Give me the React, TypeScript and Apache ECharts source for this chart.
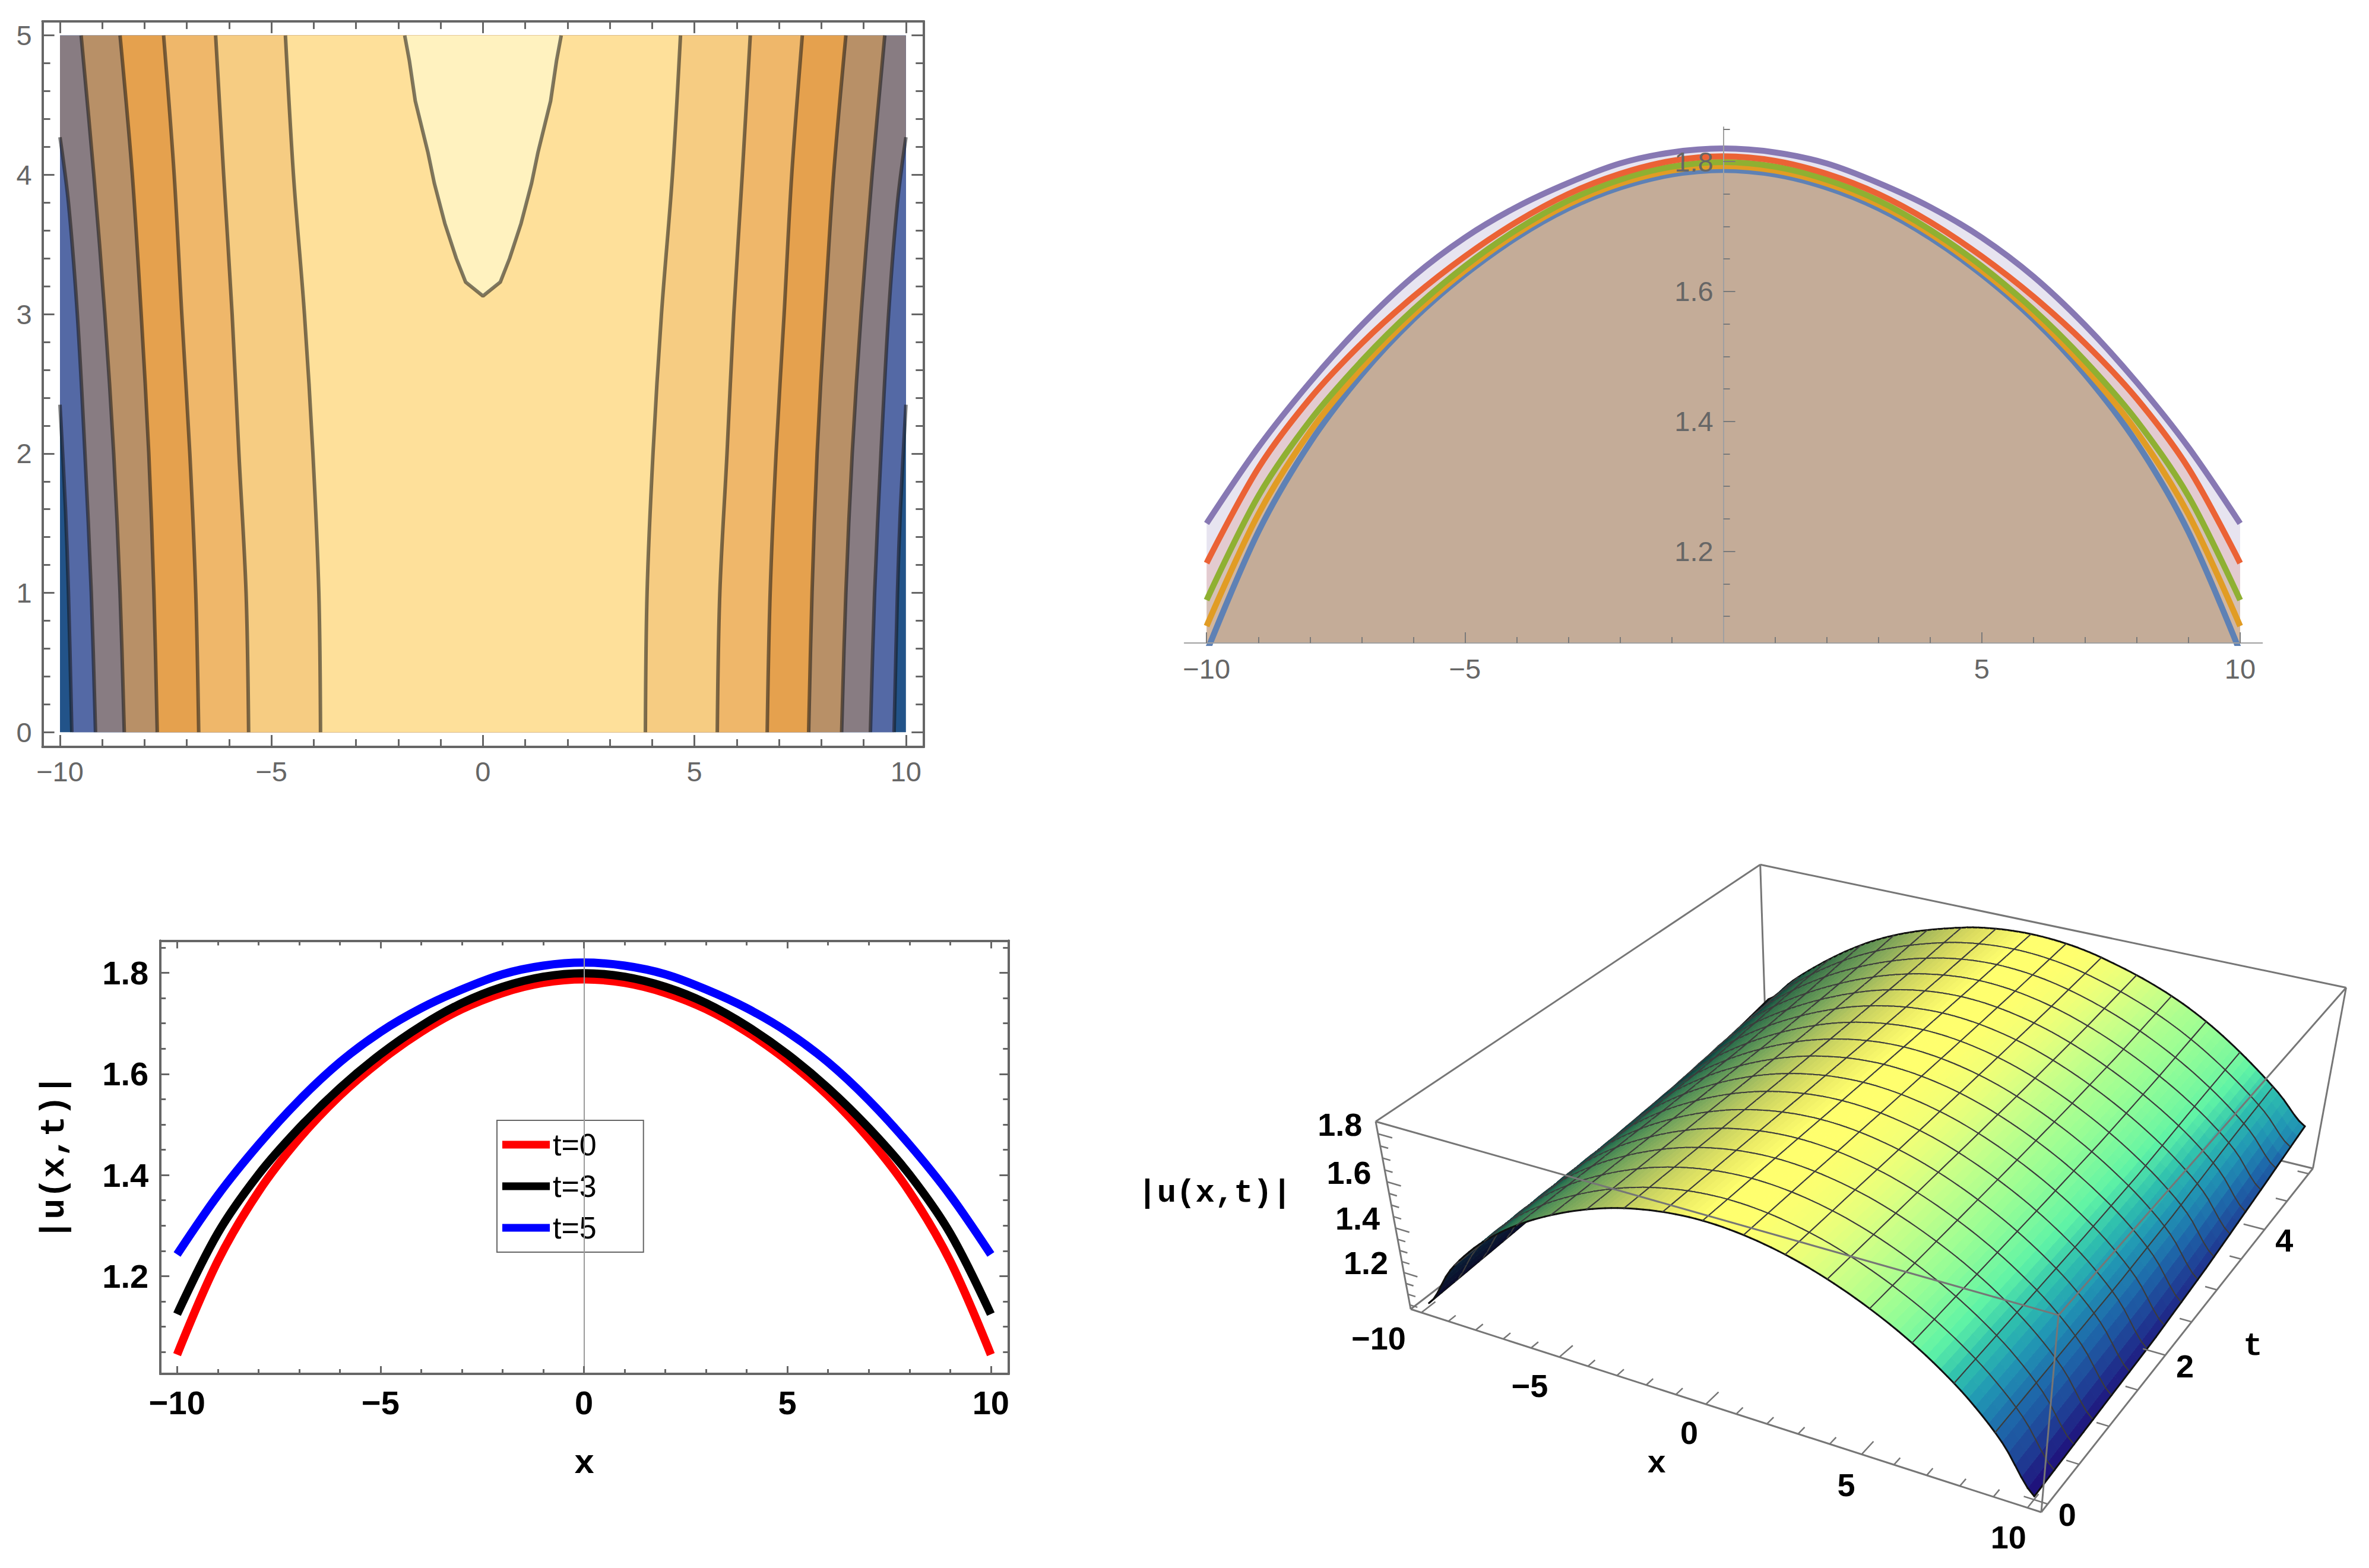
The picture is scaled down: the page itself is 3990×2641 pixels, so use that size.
import { useEffect, useRef } from 'react';
import * as echarts from 'echarts';

// values
const xKnots = [-10, -9, -8, -7, -6, -5, -4, -3, -2, -1, 0, 1, 2, 3, 4, 5, 6, 7, 8, 9, 10];
const curveT0 = [1.045, 1.23, 1.367, 1.472, 1.557, 1.626, 1.683, 1.728, 1.76, 1.78, 1.787, 1.78, 1.76, 1.728, 1.683, 1.626, 1.557, 1.472, 1.367, 1.23, 1.045];
const curveT2 = [1.085, 1.257, 1.384, 1.482, 1.564, 1.632, 1.689, 1.734, 1.766, 1.786, 1.793, 1.786, 1.766, 1.734, 1.689, 1.632, 1.564, 1.482, 1.384, 1.257, 1.085];
const curveT3 = [1.125, 1.285, 1.401, 1.493, 1.572, 1.639, 1.695, 1.74, 1.772, 1.792, 1.799, 1.792, 1.772, 1.74, 1.695, 1.639, 1.572, 1.493, 1.401, 1.285, 1.125];
const curveT4 = [1.182, 1.328, 1.435, 1.52, 1.592, 1.654, 1.707, 1.75, 1.781, 1.801, 1.808, 1.801, 1.781, 1.75, 1.707, 1.654, 1.592, 1.52, 1.435, 1.328, 1.182];
const curveT5 = [1.243, 1.36, 1.46, 1.548, 1.623, 1.683, 1.73, 1.767, 1.797, 1.814, 1.82, 1.814, 1.797, 1.767, 1.73, 1.683, 1.623, 1.548, 1.46, 1.36, 1.243];
const surfaceTimes = [0, 2, 3, 4, 5];
const surfaceRows = [curveT0, curveT2, curveT3, curveT4, curveT5];

// contour lines of the left half as [x, t], the right half mirrors them
const contour1 = [[0, 3.13], [-0.41, 3.23], [-0.63, 3.4], [-0.9, 3.65], [-1.15, 3.94], [-1.3, 4.16], [-1.6, 4.53], [-1.74, 4.82], [-1.85, 5]];
const contour2 = [[-3.84, 0], [-3.88, 1], [-4.02, 2], [-4.22, 3], [-4.48, 4], [-4.67, 5]];
const contour3 = [[-5.54, 0], [-5.6, 1], [-5.77, 2], [-5.93, 3], [-6.13, 4], [-6.32, 5]];
const contour4 = [[-6.72, 0], [-6.79, 1], [-6.93, 2], [-7.12, 3], [-7.3, 4], [-7.55, 5]];
const contour5 = [[-7.7, 0], [-7.78, 1], [-7.9, 2], [-8.08, 3], [-8.29, 4], [-8.58, 5]];
const contour6 = [[-8.48, 0], [-8.58, 1], [-8.73, 2], [-8.94, 3], [-9.2, 4], [-9.5, 5]];
const contour7 = [[-9.16, 0], [-9.26, 1], [-9.41, 2], [-9.59, 3], [-9.8, 3.8], [-10, 4.27]];
const contour8 = [[-9.72, 0], [-9.8, 1], [-9.87, 1.6], [-10, 2.35]];
const contourLines = [contour8, contour7, contour6, contour5, contour4, contour3, contour2, contour1];
const contourColors = ['#5469a5', '#887c82', '#b89067', '#e5a14e', '#efb76a', '#f6cc82', '#fee09a', '#fff2bf'];

const xMajor = [-10, -5, 0, 5, 10];
const xMajorNoZero = [-10, -5, 5, 10];
const xMinor = [-9, -8, -7, -6, -4, -3, -2, -1, 1, 2, 3, 4, 6, 7, 8, 9];
const tMajor = [0, 1, 2, 3, 4, 5];
const tMinor = [0.2, 0.4, 0.6, 0.8, 1.2, 1.4, 1.6, 1.8, 2.2, 2.4, 2.6, 2.8, 3.2, 3.4, 3.6, 3.8, 4.2, 4.4, 4.6, 4.8];
const uMajor = [1.2, 1.4, 1.6, 1.8];
const uMinor = [1.05, 1.1, 1.15, 1.25, 1.3, 1.35, 1.45, 1.5, 1.55, 1.65, 1.7, 1.75, 1.85];
const surfaceTMajor = [0, 2, 4];
const surfaceTMinor = [0.5, 1, 1.5, 2.5, 3, 3.5, 4.5, 5];

const bandColors = ['#5e81b5', '#e19c24', '#8fb032', '#eb6235', '#8778b3'];
const legendNames = ['t=0', 't=3', 't=5'];
const legendColors = ['#ff0000', '#000000', '#0000ff'];

const zPalette: [number, number[]][] = [
  [1.05, [31, 15, 122]],
  [1.15, [31, 63, 149]],
  [1.27, [30, 106, 171]],
  [1.36, [33, 152, 180]],
  [1.43, [47, 192, 174]],
  [1.5, [95, 243, 166]],
  [1.6, [156, 254, 148]],
  [1.69, [207, 255, 134]],
  [1.74, [238, 255, 120]],
  [1.78, [255, 255, 110]],
];
// how far the colour runs ahead of the height at the far end (t=5), by height
const farColorShift = [[1.15, 0], [1.25, 0.05], [1.5, 0.04], [1.65, -0.02], [1.85, -0.02]];

// view of the 3D box: image of its corners in page pixels and the perspective weights
const boxX = [-10.4, 10.4];
const boxT = [-0.1, 5.1];
const boxZ = [1.03, 1.85];
const cornerO = [2376, 2205];
const cornerA = [3438, 2547];
const cornerB = [2974.1, 1743.2];
const cornerC = [2317, 1889];
const weightX = 0.88;
const weightT = 1.2122;
const weightZ = 0.9265;

const SANS = '"Liberation Sans"';
const MONO = '"Liberation Mono"';
const minusLabel = (v: number) => (v < 0 ? `\u2212${Math.abs(v)}` : `${v}`);

function depth(x: number, t: number, z: number) {
  const u = (x - boxX[0]) / (boxX[1] - boxX[0]);
  const v = (t - boxT[0]) / (boxT[1] - boxT[0]);
  const w = (z - boxZ[0]) / (boxZ[1] - boxZ[0]);
  return 1 + u * (weightX - 1) + v * (weightT - 1) + w * (weightZ - 1);
}

function project(x: number, t: number, z: number) {
  const u = (x - boxX[0]) / (boxX[1] - boxX[0]);
  const v = (t - boxT[0]) / (boxT[1] - boxT[0]);
  const w = (z - boxZ[0]) / (boxZ[1] - boxZ[0]);
  const d = depth(x, t, z);
  return [0, 1].map(
    (k) =>
      (cornerO[k] +
        u * (weightX * cornerA[k] - cornerO[k]) +
        v * (weightT * cornerB[k] - cornerO[k]) +
        w * (weightZ * cornerC[k] - cornerO[k])) /
      d
  );
}

// smooth reading of one row between its knots, only used to draw the surface
function rowAt(row: number[], x: number) {
  const p = Math.min(Math.max(x + 10, 0), 20);
  const i = Math.min(Math.floor(p), 19);
  const s = p - i;
  const a = row[Math.max(i - 1, 0)];
  const b = row[i];
  const c = row[i + 1];
  const d = row[Math.min(i + 2, 20)];
  return b + 0.5 * s * (c - a + s * (2 * a - 5 * b + 4 * c - d + s * (3 * (b - c) + d - a)));
}

function surfaceAt(x: number, t: number) {
  let r = 0;
  while (r < surfaceTimes.length - 2 && t > surfaceTimes[r + 1]) r += 1;
  const s = (t - surfaceTimes[r]) / (surfaceTimes[r + 1] - surfaceTimes[r]);
  return rowAt(surfaceRows[r], x) * (1 - s) + rowAt(surfaceRows[r + 1], x) * s;
}

function shiftAt(z: number) {
  if (z <= farColorShift[0][0]) return 0;
  let i = 0;
  while (i < farColorShift.length - 2 && z > farColorShift[i + 1][0]) i += 1;
  const [z0, s0] = farColorShift[i];
  const [z1, s1] = farColorShift[i + 1];
  return s0 + ((s1 - s0) * (z - z0)) / (z1 - z0);
}

function surfaceColor(x: number, t: number, z: number) {
  const corner = 0.07 * Math.max(0, (t - 4.3) / 0.7) * Math.max(0, (Math.abs(x) - 8.75) / 1.25);
  const p = z + (t / 5) * shiftAt(z) + corner;
  let i = 0;
  while (i < zPalette.length - 2 && p > zPalette[i + 1][0]) i += 1;
  const [z0, c0] = zPalette[i];
  const [z1, c1] = zPalette[i + 1];
  const s = Math.min(Math.max((p - z0) / (z1 - z0), 0), 1);
  const shade = x < 0 ? Math.max(0.32, 1 + 0.075 * x) : 1;
  const rgb = c0.map((c, k) => Math.round((c + (c1[k] - c) * s) * shade));
  return `rgb(${rgb.join(',')})`;
}

const CELLS_X = 96;
const CELLS_T = 32;
const MESH_X = 6;
const MESH_T = 2;
const cellX = (i: number) => -10 + (20 * i) / CELLS_X;
const cellT = (i: number) => (5 * i) / CELLS_T;

function buildCells() {
  const cells: number[][] = [];
  for (let ix = 0; ix < CELLS_X; ix += 1) {
    for (let it = 0; it < CELLS_T; it += 1) cells.push([ix, it]);
  }
  const key = (c: number[]) => {
    const x = cellX(c[0] + 0.5);
    const t = cellT(c[1] + 0.5);
    return depth(x, t, surfaceAt(x, t));
  };
  return cells.sort((a, b) => key(b) - key(a));
}

function frameAxis(position: string, gridIndex: number, range: number[], values: number[], length: number, label?: any, extra?: any) {
  return {
    type: 'value',
    gridIndex,
    position,
    min: range[0],
    max: range[1],
    z: 5,
    splitLine: { show: false },
    axisLine: { show: true, onZero: false, lineStyle: { color: '#666666', width: 4 } },
    axisTick: { show: true, inside: true, length, customValues: values, lineStyle: { color: '#666666', width: 3 } },
    axisLabel: label ? { show: true, customValues: values, ...label } : { show: false },
    ...extra,
  };
}

// the open axes of the band panel are thin and lighter
function openAxis(position: string, range: number[], values: number[], length: number, showLine: boolean, label?: any, extra?: any) {
  return {
    ...frameAxis(position, 1, range, values, length, label, extra),
    axisLine: { show: showLine, onZero: false, lineStyle: { color: '#a0a0a0', width: 2 } },
    axisTick: { show: true, inside: true, length, customValues: values, lineStyle: { color: '#7a7a7a', width: 2 } },
  };
}

function segmentSeries(segments: number[][][], color: string, width: number, z: number, axisIndex: number) {
  return {
    type: 'custom',
    xAxisIndex: axisIndex,
    yAxisIndex: axisIndex,
    z,
    clip: false,
    silent: true,
    data: segments.map((_, i) => [i]),
    renderItem: (_: any, api: any) => {
      const seg = segments[api.value(0)];
      const a = api.coord(seg[0]);
      const b = api.coord(seg[1]);
      return {
        type: 'line',
        shape: { x1: a[0], y1: a[1], x2: b[0], y2: b[1] },
        style: { stroke: color, lineWidth: width, fill: 'none' },
      };
    },
  };
}

function buildOption() {
  const zMin = boxZ[0];
  const c = (i: number, j: number, k: number) => project(boxX[i], boxT[j], boxZ[k]);

  const greyLabel = { fontSize: 47, fontFamily: SANS, color: '#666666', formatter: minusLabel };
  const blackLabel = { fontSize: 56, fontFamily: SANS, fontWeight: 'bold', color: '#000000', formatter: minusLabel, margin: 20 };
  const fixedOne = (v: number) => v.toFixed(1);

  const range1X = [-10.413, 10.414];
  const range1Y = [-0.1057, 5.1016];
  const range2X = [-10.43, 10.43];
  const range2Y = [1.059, 1.853];
  const range3X = [-10.41, 10.43];
  const range3Y = [1.0069, 1.8634];
  const axisShift = { offset: -907.8 };

  const xAxis = [
    frameAxis('bottom', 0, range1X, xMajor, 20, { ...greyLabel, margin: 18 }),
    frameAxis('bottom', 0, range1X, xMinor, 13),
    frameAxis('top', 0, range1X, xMajor, 20),
    frameAxis('top', 0, range1X, xMinor, 13),
    openAxis('bottom', range2X, xMajorNoZero, 18, true, { ...greyLabel, margin: 20 }),
    openAxis('bottom', range2X, xMinor, 10, false),
    frameAxis('bottom', 2, range3X, xMajor, 13, blackLabel, {
      name: 'x',
      nameLocation: 'middle',
      nameGap: 122,
      nameTextStyle: { fontSize: 58, fontFamily: MONO, fontWeight: 'bold', color: '#000000' },
    }),
    frameAxis('bottom', 2, range3X, xMinor, 8),
    frameAxis('top', 2, range3X, xMajor, 13),
    frameAxis('top', 2, range3X, xMinor, 8),
    { type: 'value', gridIndex: 3, min: 0, max: 3990, show: false },
  ];
  const yAxis = [
    frameAxis('left', 0, range1Y, tMajor, 20, { ...greyLabel, margin: 18 }),
    frameAxis('left', 0, range1Y, tMinor, 13),
    frameAxis('right', 0, range1Y, tMajor, 20),
    frameAxis('right', 0, range1Y, tMinor, 13),
    openAxis('left', range2Y, uMajor, 20, true, { ...greyLabel, margin: 17, formatter: fixedOne }, axisShift),
    openAxis('left', range2Y, uMinor, 11, false, undefined, axisShift),
    frameAxis('left', 2, range3Y, uMajor, 15, { ...blackLabel, formatter: fixedOne }, {
      name: '|u(x,t)|',
      nameLocation: 'middle',
      nameRotate: 90,
      nameGap: 150,
      nameTextStyle: { fontSize: 58, fontFamily: MONO, fontWeight: 'bold', color: '#000000' },
    }),
    frameAxis('left', 2, range3Y, uMinor, 9),
    frameAxis('right', 2, range3Y, uMajor, 15),
    frameAxis('right', 2, range3Y, uMinor, 9),
    { type: 'value', gridIndex: 3, min: 0, max: 2641, inverse: true, show: false },
  ];

  // contour panel
  const contourFills = {
    type: 'custom',
    xAxisIndex: 0,
    yAxisIndex: 0,
    z: 1,
    clip: false,
    silent: true,
    data: [[-1], ...contourLines.map((_, i) => [i])],
    renderItem: (_: any, api: any) => {
      const i = api.value(0);
      let pts: number[][];
      if (i < 0) {
        pts = [[-10, 0], [10, 0], [10, 5], [-10, 5]];
      } else {
        const left = contourLines[i];
        const top = left[left.length - 1][1] < 5 ? [[-10, 5], [10, 5]] : [];
        const right = [...left].reverse().map((p) => [-p[0], p[1]]);
        pts = [...left, ...top, ...right];
      }
      return {
        type: 'polygon',
        shape: { points: pts.map((p) => api.coord(p)) },
        style: { fill: i < 0 ? '#225389' : contourColors[i] },
      };
    },
  };
  const contourSeries = contourLines.flatMap((line) => {
    const mirror = line.map((p) => [-p[0], p[1]]);
    const isApex = line === contour1;
    const sides = isApex ? [[...line].reverse().concat(mirror.slice(1))] : [line, mirror];
    return sides.map((data) => ({
      type: 'line',
      xAxisIndex: 0,
      yAxisIndex: 0,
      z: 2,
      data,
      symbol: 'none',
      smooth: isApex ? 0 : 0.33,
      silent: true,
      lineStyle: { color: 'rgba(20,20,20,0.55)', width: 6 },
    }));
  });

  // filled band panel
  const bandSeries = surfaceRows.map((row, i) => ({
    type: 'line',
    name: `band${i}`,
    xAxisIndex: 4,
    yAxisIndex: 4,
    z: 2,
    data: row.map((v, k) => [xKnots[k], v]),
    symbol: 'none',
    smooth: 0.33,
    silent: true,
    lineStyle: { color: bandColors[i], width: 10 },
    areaStyle: { color: bandColors[i], opacity: 0.2, origin: range2Y[0] },
  }));

  // legend panel
  const legendRows = [curveT0, curveT3, curveT5];
  const lineSeries = legendRows.map((row, i) => ({
    type: 'line',
    name: legendNames[i],
    xAxisIndex: 6,
    yAxisIndex: 6,
    z: 2,
    data: row.map((v, k) => [xKnots[k], v]),
    symbol: 'none',
    smooth: 0.33,
    silent: true,
    itemStyle: { color: legendColors[i] },
    lineStyle: { color: legendColors[i], width: 14 },
    ...(i === 2
      ? { markLine: { silent: true, symbol: 'none', label: { show: false }, lineStyle: { color: '#9a9a9a', width: 2, type: 'solid' }, data: [{ xAxis: 0 }] } }
      : {}),
  }));

  // surface panel
  const cells = buildCells();
  const surfaceSeries = {
    type: 'custom',
    xAxisIndex: 10,
    yAxisIndex: 10,
    z: 3,
    clip: false,
    silent: true,
    progressive: 0,
    data: cells,
    renderItem: (_: any, api: any) => {
      const ix = api.value(0);
      const it = api.value(1);
      const x0 = cellX(ix);
      const x1 = cellX(ix + 1);
      const t0 = cellT(it);
      const t1 = cellT(it + 1);
      const at = (x: number, t: number) => api.coord(project(x, t, surfaceAt(x, t)));
      const p00 = at(x0, t0);
      const p10 = at(x1, t0);
      const p11 = at(x1, t1);
      const p01 = at(x0, t1);
      const xc = (x0 + x1) / 2;
      const tc = (t0 + t1) / 2;
      const fill = surfaceColor(xc, tc, surfaceAt(xc, tc));
      const edge = (a: number[], b: number[], outer: boolean) => ({
        type: 'line',
        shape: { x1: a[0], y1: a[1], x2: b[0], y2: b[1] },
        style: { stroke: outer ? '#111111' : '#3c3c3c', lineWidth: outer ? 3 : 2, fill: 'none', lineCap: 'round' },
      });
      const children: any[] = [
        { type: 'polygon', shape: { points: [p00, p10, p11, p01] }, style: { fill, stroke: fill, lineWidth: 1 } },
      ];
      // mesh lines belong to both cells that share them, so nearer cells do not cut them
      if (it % MESH_T === 0) children.push(edge(p00, p10, it === 0));
      if ((it + 1) % MESH_T === 0) children.push(edge(p01, p11, it + 1 === CELLS_T));
      if (ix % MESH_X === 0) children.push(edge(p00, p01, ix === 0));
      if ((ix + 1) % MESH_X === 0) children.push(edge(p10, p11, ix + 1 === CELLS_X));
      return { type: 'group', children };
    },
  };

  const backEdges = [
    [c(0, 1, 1), c(0, 0, 1)],
    [c(0, 1, 1), c(1, 1, 1)],
    [c(0, 1, 1), c(0, 1, 0)],
    [c(0, 0, 0), c(0, 1, 0)],
    [c(0, 1, 0), c(1, 1, 0)],
  ];
  const frontEdges = [
    [c(0, 0, 1), c(1, 0, 1)],
    [c(1, 0, 1), c(1, 1, 1)],
    [c(1, 0, 1), c(1, 0, 0)],
    [c(0, 0, 0), c(0, 0, 1)],
    [c(0, 0, 0), c(1, 0, 0)],
    [c(1, 0, 0), c(1, 1, 0)],
    [c(1, 1, 0), c(1, 1, 1)],
  ];
  const ticks: number[][][] = [
    ...xMajor.map((v) => [project(v, boxT[0], zMin), project(v, boxT[0] + 0.17, zMin)]),
    ...xMinor.map((v) => [project(v, boxT[0], zMin), project(v, boxT[0] + 0.09, zMin)]),
    ...surfaceTMajor.map((v) => [project(boxX[1], v, zMin), project(boxX[1] - 0.7, v, zMin)]),
    ...surfaceTMinor.map((v) => [project(boxX[1], v, zMin), project(boxX[1] - 0.38, v, zMin)]),
    ...uMajor.map((v) => [project(boxX[0], boxT[0], v), project(boxX[0] + 0.5, boxT[0], v)]),
    ...uMinor.map((v) => [project(boxX[0], boxT[0], v), project(boxX[0] + 0.28, boxT[0], v)]),
  ];

  const tickFont = `bold 54px ${SANS}`;
  const titleFont = `bold 54px ${MONO}`;
  const xOffsets = [[-72, 43], [-50, 48], [-28, 48], [-26, 51], [-32, 49]];
  const texts = [
    ...xMajor.map((v, i) => ({ text: minusLabel(v), at: project(v, boxT[0], zMin), off: xOffsets[i], font: tickFont })),
    ...surfaceTMajor.map((v) => ({ text: `${v}`, at: project(boxX[1], v, zMin), off: [33, 18], font: tickFont })),
    ...uMajor.map((v) => ({ text: v.toFixed(1), at: project(boxX[0], boxT[0], v), off: [-64, -16], font: tickFont })),
    { text: 'x', at: project(0, boxT[0], zMin), off: [-83, 100], font: titleFont },
    { text: 't', at: project(boxX[1], 2.5, zMin), off: [103, 41], font: titleFont },
    { text: '|u(x,t)|', at: project(boxX[0], boxT[0], 1.45), off: [-301, -40], font: titleFont },
  ];
  const textSeries = {
    type: 'custom',
    xAxisIndex: 10,
    yAxisIndex: 10,
    z: 6,
    clip: false,
    silent: true,
    data: texts.map((_, i) => [i]),
    renderItem: (_: any, api: any) => {
      const item = texts[api.value(0)];
      const p = api.coord(item.at);
      return {
        type: 'text',
        style: {
          text: item.text,
          x: p[0] + item.off[0],
          y: p[1] + item.off[1],
          font: item.font,
          fill: '#000000',
          align: 'center',
          verticalAlign: 'middle',
        },
      };
    },
  };

  return {
    animation: false,
    backgroundColor: '#ffffff',
    grid: [
      { left: 71.6, top: 35.9, width: 1483.7, height: 1222.1 },
      { left: 1994.8, top: 214, width: 1815.6, height: 869 },
      { left: 270.2, top: 1584.4, width: 1428.1, height: 729.6 },
      { left: 0, top: 0, width: 3990, height: 2641 },
    ],
    xAxis,
    yAxis,
    legend: {
      data: legendNames,
      orient: 'vertical',
      left: 837,
      top: 1887,
      icon: 'rect',
      itemWidth: 80,
      itemHeight: 13,
      itemGap: 16,
      padding: [14, 79, 14, 9],
      selectedMode: false,
      backgroundColor: '#ffffff',
      borderColor: '#666666',
      borderWidth: 2,
      textStyle: { fontSize: 52, fontFamily: SANS, color: '#000000', lineHeight: 54 },
    },
    series: [
      contourFills,
      ...contourSeries,
      ...bandSeries,
      ...lineSeries,
      segmentSeries(backEdges, '#767676', 3, 2, 10),
      surfaceSeries,
      segmentSeries(frontEdges, '#767676', 3, 4, 10),
      segmentSeries(ticks, '#767676', 2.5, 4, 10),
      textSeries,
    ],
  };
}

export default function App() {
  const chartRef = useRef<HTMLDivElement | null>(null);

  useEffect(() => {
    if (!chartRef.current) return;
    document.body.style.margin = '0';

    const chart = echarts.init(chartRef.current, undefined, { renderer: 'svg' });
    chart.setOption(buildOption());

    return () => {
      chart.dispose();
    };
  }, []);

  return <div ref={chartRef} style={{ width: 3990, height: 2641 }} />;
}
